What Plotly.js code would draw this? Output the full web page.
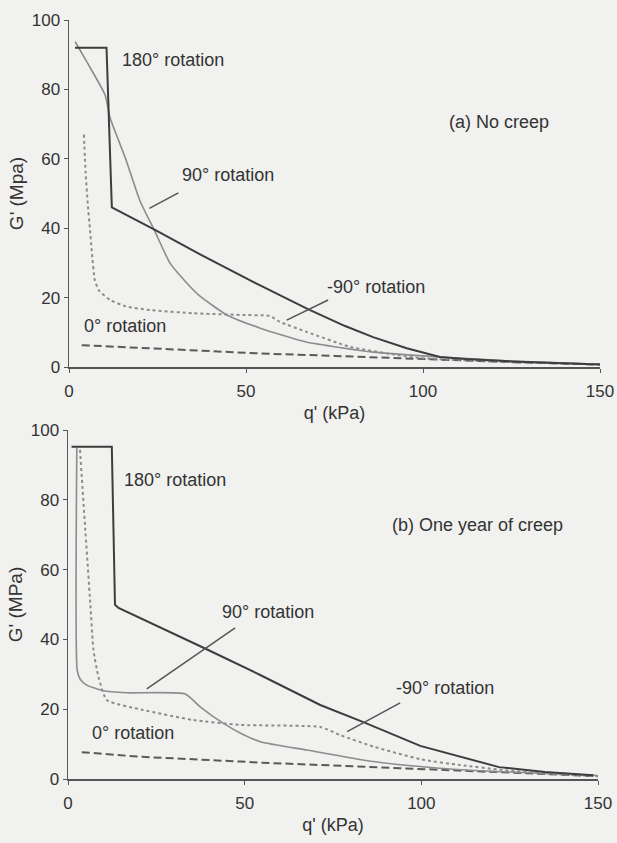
<!DOCTYPE html>
<html>
<head>
<meta charset="utf-8">
<script src="https://cdn.plot.ly/plotly-3.0.1.min.js"></script>
<style>html,body{margin:0;padding:0;background:#f1f1ef;}#chart{width:617px;height:843px;}</style>
</head>
<body>
<div id="chart"></div>
<script>
// ---------- (a) No creep ----------
var qA180 = [1.7, 10.6, 12.1, 24.3, 36, 48.3, 54, 67.5, 78, 85.9, 95.4, 104.8, 112, 125, 150];
var gA180 = [92, 92, 46, 39.5, 33, 26.5, 23.5, 16.7, 11.8, 8.6, 5.4, 2.9, 2.3, 1.6, 0.7];

var qA90 = [1.7, 5, 10.2, 11.6, 16, 20, 24.3, 28.5, 33, 37, 44.6, 54, 67, 86, 104.8, 125, 150];
var gA90 = [93.8, 88, 78.4, 71.8, 60, 48, 39, 30, 24.5, 20.4, 15, 11.2, 7.2, 4.3, 2.9, 1.7, 0.8];

var qAm90 = [4.2, 4.7, 5.3, 5.9, 6.4, 7.3, 8.5, 11.6, 16, 22.9, 35, 48.3, 56.8, 59.6, 67.2, 79.4, 92.6, 99, 110, 125, 150];
var gAm90 = [67, 56, 47, 40, 33.7, 25, 22, 19.3, 17.5, 16.4, 15.5, 15, 14.7, 13, 10.1, 5.8, 3.5, 2.6, 2.0, 1.4, 0.8];

var qA0 = [3.6, 20, 48.3, 54, 75, 104.8, 125, 150];
var gA0 = [6.3, 5.5, 4.2, 3.9, 3.2, 2.1, 1.4, 0.7];

// ---------- (b) One year of creep ----------
var qB180 = [1, 12.4, 13.3, 14.3, 38.8, 48.7, 54.4, 71.4, 83.6, 99.7, 111, 122, 135, 148.7];
var gB180 = [95.2, 95.2, 49.9, 49, 37.4, 32.6, 29.8, 21.2, 16.3, 9.5, 6.3, 3.4, 2, 1.1];

var qB90 = [2.5, 2.6, 3.5, 5.3, 9.9, 16.6, 33.1, 37.4, 43.9, 48.7, 54.4, 67.6, 86.4, 105, 125, 150];
var gB90 = [95, 31.2, 28.5, 26.9, 25.3, 24.7, 24.4, 20.7, 16, 13.2, 10.7, 8.3, 5, 3.1, 2, 1];

var qBm90 = [3.4, 4.8, 6.3, 7.2, 8.6, 11, 21.2, 35.4, 48.7, 71.4, 77, 86.4, 100, 111, 123, 135, 150];
var gBm90 = [94.3, 72.8, 50.5, 37, 29.3, 22.6, 19.8, 16.9, 15.5, 14.9, 12.6, 9.3, 5.6, 4, 2.6, 1.6, 0.8];

var qB0 = [3.9, 20, 48.7, 54.4, 94, 120, 150];
var gB0 = [7.7, 6.4, 5.0, 4.7, 3.1, 2, 0.8];

// ---------- labels ----------
var xTicks = [0, 50, 100, 150];
var yTicks = [0, 20, 40, 60, 80, 100];
var labelsA = ["180° rotation", "(a) No creep", "90° rotation", "-90° rotation", "0° rotation"];
var labelAx = [14.4, 106.8, 31.4, 72.3, 3.7];
var labelAy = [88.5, 70.6, 55.4, 23, 11.8];
var labelsB = ["180° rotation", "(b) One year of creep", "90° rotation", "-90° rotation", "0° rotation"];
var labelBx = [15.3, 91.2, 43.1, 92.4, 6.2];
var labelBy = [85.6, 72.8, 47.9, 26.1, 13.2];
// leader lines [x0, y0, x1, y1]
var leadersA = [[22.7, 45.7, 30.9, 50.2], [61.5, 13.5, 73.2, 19.3]];
var leadersB = [[22.3, 25.8, 47.3, 43.3], [79, 13.6, 94, 21.8]];

var FONT = "Liberation Sans, Arial, Helvetica, sans-serif";
var dark = "#3d3d3d", gray = "#8c8c8c", mid = "#5a5a5a";

function tr(x, y, xa, ya, color, width, dash, shape) {
  return {x: x, y: y, xaxis: xa, yaxis: ya, type: "scatter", mode: "lines",
          line: {color: color, width: width, dash: dash, shape: shape || "linear", smoothing: 0.5},
          hoverinfo: "skip", showlegend: false};
}
var data = [
  tr(qA0, gA0, "x", "y", mid, 2, "8px,4px"),
  tr(qAm90, gAm90, "x", "y", gray, 2, "dot", "spline"),
  tr(qA90, gA90, "x", "y", gray, 1.6, "solid", "spline"),
  tr(qA180, gA180, "x", "y", dark, 2, "solid"),
  tr(qB0, gB0, "x2", "y2", mid, 2, "8px,4px"),
  tr(qBm90, gBm90, "x2", "y2", gray, 2, "dot", "spline"),
  tr(qB90, gB90, "x2", "y2", gray, 1.6, "solid", "spline"),
  tr(qB180, gB180, "x2", "y2", dark, 2, "solid")
];

function xax(domain, anchor) {
  return {domain: domain, anchor: anchor, range: [0, 150], tickvals: xTicks, ticktext: xTicks.map(String),
          showgrid: false, zeroline: false, showline: true, linecolor: "#555", linewidth: 1.5,
          ticks: "outside", ticklen: 4, tickcolor: "#555", tickwidth: 1, ticklabelstandoff: 4,
          tickfont: {family: FONT, size: 17, color: "#333"},
          title: {text: "q' (kPa)", font: {family: FONT, size: 18, color: "#333"}, standoff: 6}};
}
function yax(domain, anchor, t) {
  return {domain: domain, anchor: anchor, range: [0, 100], tickvals: yTicks, ticktext: yTicks.map(String),
          showgrid: false, zeroline: false, showline: true, linecolor: "#555", linewidth: 1.5,
          ticks: "outside", ticklen: 4, tickcolor: "#555", tickwidth: 1,
          tickfont: {family: FONT, size: 17, color: "#333"},
          title: {text: t, font: {family: FONT, size: 19, color: "#333"}, standoff: 3}};
}

var annotations = [];
labelsA.forEach(function (t, i) {
  annotations.push({x: labelAx[i], y: labelAy[i], xref: "x", yref: "y", text: t, showarrow: false,
    xanchor: "left", yanchor: "middle", font: {family: FONT, size: 18, color: "#333"}});
});
labelsB.forEach(function (t, i) {
  annotations.push({x: labelBx[i], y: labelBy[i], xref: "x2", yref: "y2", text: t, showarrow: false,
    xanchor: "left", yanchor: "middle", font: {family: FONT, size: 18, color: "#333"}});
});
var shapes = [];
leadersA.forEach(function (l) {
  shapes.push({type: "line", xref: "x", yref: "y", x0: l[0], y0: l[1], x1: l[2], y1: l[3], line: {color: "#555", width: 1.5}});
});
leadersB.forEach(function (l) {
  shapes.push({type: "line", xref: "x2", yref: "y2", x0: l[0], y0: l[1], x1: l[2], y1: l[3], line: {color: "#555", width: 1.5}});
});

var layout = {
  width: 617, height: 843,
  margin: {l: 0, r: 0, t: 0, b: 0},
  paper_bgcolor: "#f1f1ef", plot_bgcolor: "rgba(0,0,0,0)",
  showlegend: false,
  xaxis: xax([69 / 617, 600 / 617], "y"),
  yaxis: yax([1 - 367 / 843, 1 - 20 / 843], "x", "G' (Mpa)"),
  xaxis2: xax([68 / 617, 598 / 617], "y2"),
  yaxis2: yax([1 - 779 / 843, 1 - 430 / 843], "x2", "G' (MPa)"),
  annotations: annotations,
  shapes: shapes
};
Plotly.newPlot("chart", data, layout, {staticPlot: true});
</script>
</body>
</html>
